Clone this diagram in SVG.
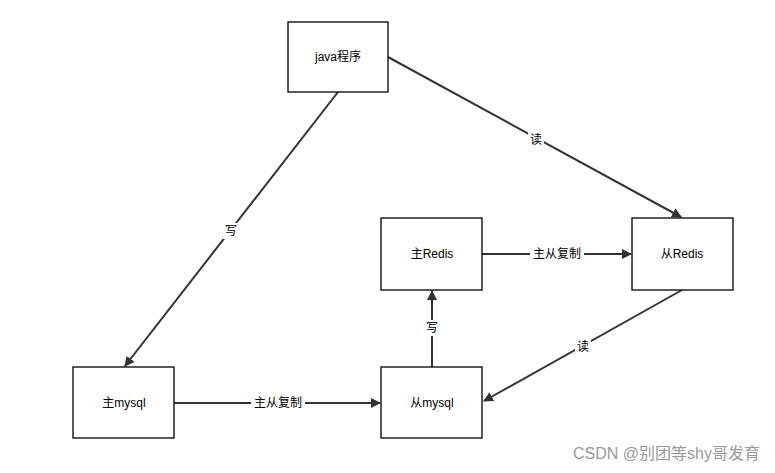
<svg xmlns="http://www.w3.org/2000/svg" width="775" height="473" viewBox="0 0 775 473">
<style>
.n{fill:#fff;stroke:#000;stroke-width:1.3}
.t{font-family:"Liberation Sans","Noto Sans CJK SC",sans-serif;font-size:12px;fill:#000;text-anchor:middle;dominant-baseline:central}
.c{stroke:#333;stroke-width:2;fill:none;marker-end:url(#a)}
.lb{fill:#fff}
</style>
<defs><marker id="a" viewBox="0 0 10 10" refX="9" refY="5" markerWidth="5" markerHeight="5" orient="auto"><path d="M0,0L10,5L0,10z" fill="#333"/></marker></defs>
<rect width="775" height="473" fill="#fff"/>
<g id="connectors">
<line class="c" x1="388" y1="57" x2="681" y2="217"/>
<line class="c" x1="338" y1="92" x2="125" y2="366"/>
<line class="c" x1="482" y1="254" x2="631" y2="254"/>
<line class="c" x1="682" y1="290" x2="484" y2="401"/>
<line class="c" x1="432" y1="367" x2="432" y2="291"/>
<line class="c" x1="174" y1="403" x2="380" y2="403"/>
<rect class="lb" x="528" y="132" width="16" height="16"/><text class="t" x="536" y="140">读</text>
<rect class="lb" x="223" y="223" width="16" height="16"/><text class="t" x="231" y="231">写</text>
<rect class="lb" x="530" y="246" width="54" height="16"/><text class="t" x="557" y="254">主从复制</text>
<rect class="lb" x="575" y="339" width="16" height="16"/><text class="t" x="583" y="347">读</text>
<rect class="lb" x="424" y="320" width="16" height="16"/><text class="t" x="432" y="328">写</text>
<rect class="lb" x="251" y="395" width="54" height="16"/><text class="t" x="278" y="403">主从复制</text>
</g>
<g id="java"><rect class="n" x="288" y="22" width="100" height="70"/><text class="t" x="338" y="57">java程序</text></g>
<g id="masterRedis"><rect class="n" x="381" y="218" width="101" height="72"/><text class="t" x="432" y="254">主Redis</text></g>
<g id="slaveRedis"><rect class="n" x="632" y="218" width="101" height="72"/><text class="t" x="682" y="254">从Redis</text></g>
<g id="masterMysql"><rect class="n" x="73" y="367" width="101" height="71"/><text class="t" x="124" y="403">主mysql</text></g>
<g id="slaveMysql"><rect class="n" x="381" y="367" width="101" height="71"/><text class="t" x="432" y="403">从mysql</text></g>
<text x="760" y="453" font-family="Liberation Sans,Noto Sans CJK SC,sans-serif" font-size="16" fill="#999" text-anchor="end" dominant-baseline="central">CSDN @别团等shy哥发育</text>
</svg>
